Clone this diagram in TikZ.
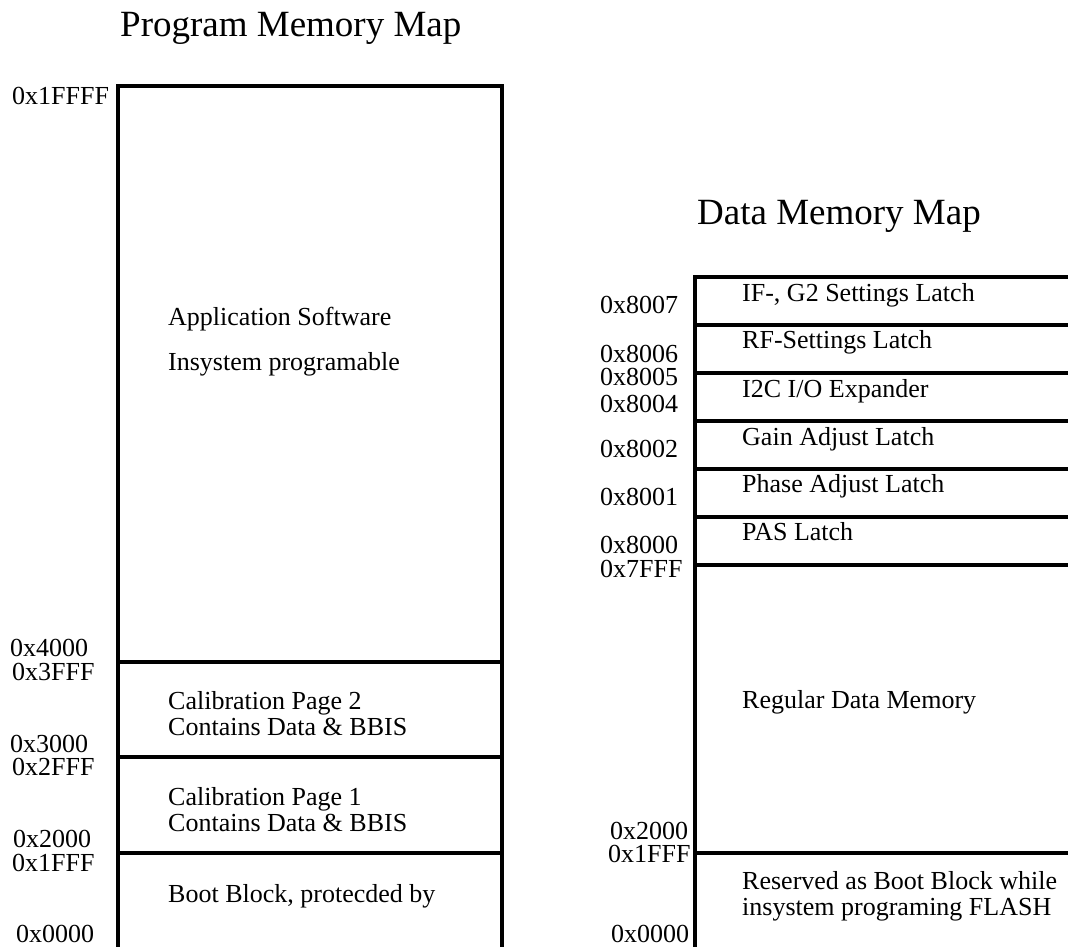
\documentclass[tikz,border=0pt]{standalone}
\usepackage{fontspec}
\setmainfont{Liberation Serif}
\usepackage{tikz}
\usetikzlibrary{positioning}
\tikzset{
x=1pt, y=-1pt, % one unit is one pixel of the page, y runs downwards
addr/.style={anchor=base west, inner sep=0pt, font=\fontsize{26}{26}\selectfont}, % address labels
cell/.style={addr}, % text written inside a memory block
maptitle/.style={anchor=base west, inner sep=0pt, font=\fontsize{37}{37}\selectfont}, % heading of each map
wall/.style={line width=3.5pt}, % thick borders of the blocks
}

\begin{document}
\begin{tikzpicture}
    \useasboundingbox (0,0) rectangle (1068,947);

    % program memory
    \node[maptitle] (ptitle) at (120,37) {Program Memory Map};
    \draw[wall] (118,947) -- (118,86) -- (502,86) -- (502,947);
    \foreach \y in {662,757,853}
        \draw[wall] (118,\y) -- (502,\y);

    \node[addr] (p1ffff) at (12,105) {0x1FFFF};
    \node[addr] (p4000) at (10,656) {0x4000};
    \node[addr] (p3fff) at (12,680) {0x3FFF};
    \node[addr] (p3000) at (10,752) {0x3000};
    \node[addr] (p2fff) at (12,775) {0x2FFF};
    \node[addr] (p2000) at (13,847) {0x2000};
    \node[addr] (p1fff) at (12,871) {0x1FFF};
    \node[addr] (p0000) at (16,942) {0x0000};

    \node[cell] (app) at (168,325) {Application Software};
    \node[cell] (isp) at (168,370) {Insystem programable};
    \node[cell] (cal2) at (168,709) {Calibration Page 2};
    \node[cell] (cal2b) at (168,735) {Contains Data \& BBIS};
    \node[cell] (cal1) at (168,805) {Calibration Page 1};
    \node[cell] (cal1b) at (168,831) {Contains Data \& BBIS};
    \node[cell] (boot) at (168,902) {Boot Block, protecded by};

    % data memory
    \node[maptitle] (dtitle) at (697,224) {Data Memory Map};
    \draw[wall] (695,947) -- (695,277) -- (1068,277);
    \foreach \y in {325,373,421,469,517,565,853}
        \draw[wall] (695,\y) -- (1068,\y);

    \node[addr] (d8007) at (600,313) {0x8007};
    \node[addr] (d8006) at (600,362) {0x8006};
    \node[addr] (d8005) at (600,385) {0x8005};
    \node[addr] (d8004) at (600,412) {0x8004};
    \node[addr] (d8002) at (600,457) {0x8002};
    \node[addr] (d8001) at (600,505) {0x8001};
    \node[addr] (d8000) at (600,553) {0x8000};
    \node[addr] (d7fff) at (600,577) {0x7FFF};
    \node[addr] (d2000) at (610,839) {0x2000};
    \node[addr] (d1fff) at (608,862) {0x1FFF};
    \node[addr] (d0000) at (611,942) {0x0000};

    \node[cell] (ifg2) at (742,301) {IF-, G2 Settings Latch};
    \node[cell] (rf) at (742,348) {RF-Settings Latch};
    \node[cell] (i2c) at (742,397) {I2C I/O Expander};
    \node[cell] (gain) at (742,445) {Gain Adjust Latch};
    \node[cell] (phase) at (742,492) {Phase Adjust Latch};
    \node[cell] (pas) at (742,540) {PAS Latch};
    \node[cell] (regular) at (742,708) {Regular Data Memory};
    \node[cell] (resv) at (742,889) {Reserved as Boot Block while};
    \node[cell] (resvb) at (742,915) {insystem programing FLASH};

\end{tikzpicture}
\end{document}
